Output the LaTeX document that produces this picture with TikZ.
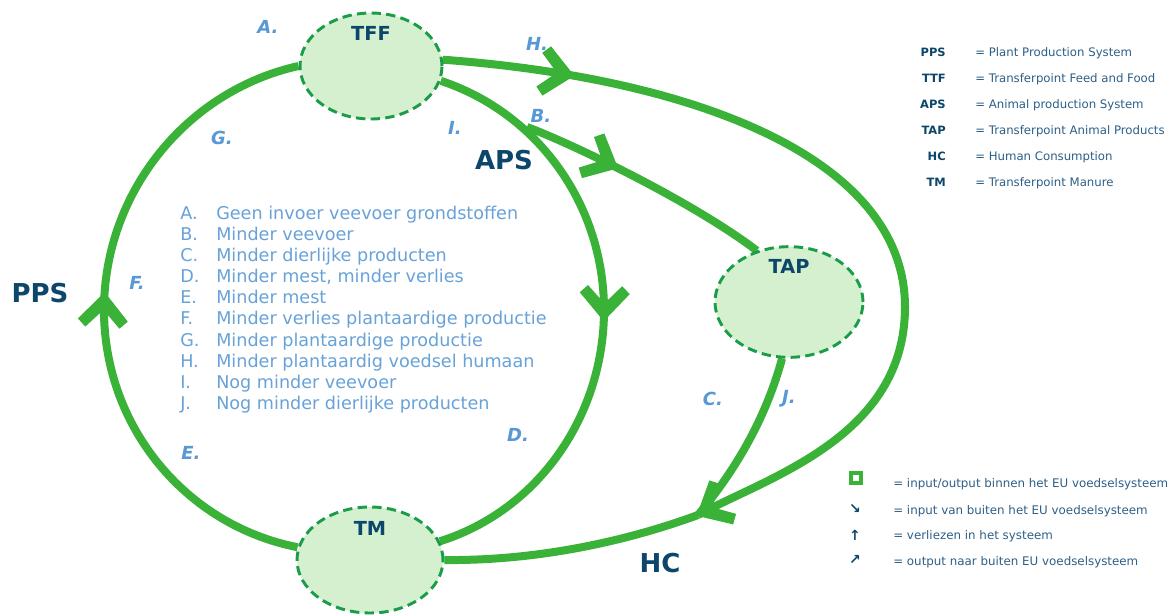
\documentclass[tikz,border=0pt]{standalone}
\usepackage{fontspec}
\setmainfont{DejaVu Sans}
\usetikzlibrary{decorations.markings,shapes.geometric,backgrounds}
\definecolor{flowc}{RGB}{58,178,56}
\definecolor{ellfill}{RGB}{212,240,207}
\definecolor{elldash}{RGB}{26,156,72}
\definecolor{navy}{RGB}{12,70,106}
\definecolor{letterblue}{RGB}{88,152,212}
\definecolor{listblue}{RGB}{104,162,216}
\definecolor{legtext}{RGB}{45,95,135}
\newcommand\chevronhead{\fill[flowc] (2,0) -- (-26,25) -- (-33.6,17.1) -- (-15.8,0) -- (-33.6,-17.1) -- (-26,-25) -- cycle;}
\begin{document}
\begin{tikzpicture}[x=0.75pt,y=-0.75pt,
  flow/.style={draw=flowc, line width=6pt},
  midarrow/.style={postaction={decorate, decoration={markings, mark=at position #1 with {\chevronhead}}}},
  stage/.style={ellipse, draw=elldash, fill=ellfill, line width=2.2pt, dash pattern=on 7pt off 4pt, inner sep=0pt},
  stagelabel/.style={font=\bfseries\fontsize{14.5}{16}\selectfont, text=navy},
  system/.style={font=\bfseries\fontsize{19.5}{22}\selectfont, text=navy, inner sep=0pt},
  letter/.style={font=\bfseries\itshape\fontsize{13.5}{15}\selectfont, text=letterblue, inner sep=0pt},
  listtext/.style={font=\fontsize{13.2}{15.8}\selectfont, text=listblue, align=left, inner sep=0pt},
  legabbr/.style={font=\bfseries\fontsize{8.6}{10}\selectfont, text=navy, inner sep=0pt},
  legicon/.style={font=\bfseries\fontsize{10.5}{12}\selectfont, text=navy, inner sep=0pt},
  legtext/.style={font=\fontsize{8.8}{10}\selectfont, text=legtext, inner sep=0pt},
  legtextb/.style={font=\fontsize{8.9}{10}\selectfont, text=legtext, inner sep=0pt},
]
\useasboundingbox (0,0) rectangle (1168,615);

% stages
\node[stage, minimum width=106.5pt, minimum height=79.5pt,
  label={[stagelabel, anchor=center, yshift=-16.5pt]north:TFF}] (tff) at (371,66) {};
\node[stage, minimum width=111pt, minimum height=83pt,
  label={[stagelabel, anchor=center, yshift=-16pt]north:TAP}] (tap) at (789,302) {};
\node[stage, minimum width=109.5pt, minimum height=79.5pt,
  label={[stagelabel, anchor=center, yshift=-17pt]north:TM}] (tm) at (370,560) {};

\coordinate (ppsarc) at (104,310);
\coordinate (apsarc) at (604,310);
\coordinate (bjunction) at (527,127);
\coordinate (outerright) at (905,307);
\coordinate (hcjunction) at (698,515);

\begin{scope}[on background layer]
\fill[white] (0,0) rectangle (1168,615);
% left arc TM -> PPS -> TFF
\draw[flow, midarrow=0.52] (tm.170) .. controls (185,525) and (104,426) .. (ppsarc)
   .. controls (104,193) and (186,91) .. (tff.west);
% inner arc TFF -> APS -> TM
\draw[flow, midarrow=0.513] (tff.-12) .. controls (538,113) and (604,205) .. (apsarc)
   .. controls (604,415) and (539,510) .. (tm.15);
% outer arc TFF -> HC
\draw[flow, midarrow=0.148, midarrow=0.9995] (tff.5) .. controls (692,78) and (905,157) .. (outerright)
   .. controls (905,437) and (768,477) .. (hcjunction);
% B: APS -> TAP
\draw[flow, midarrow=0.375] (bjunction) .. controls (570,143) and (690,200) .. (tap.122);
% TAP -> HC
\draw[flow] (tap.263) .. controls (767,414) and (739,466) .. (hcjunction);
% TM -- HC
\draw[flow] (tm.east) .. controls (540,561) and (630,540) .. (hcjunction);
\end{scope}

% system names
\node[system] (pps) at (40,293) {PPS};
\node[system] (aps) at (504,160) {APS};
\node[system] (hc) at (660,563) {HC};

% letter labels
\node[letter] (la) at (268,27) {A.};
\node[letter] (lh) at (537,44) {H.};
\node[letter] (lb) at (541,116) {B.};
\node[letter] (li) at (455,128) {I.};
\node[letter] (lg) at (222,138) {G.};
\node[letter] (lf) at (137,283) {F.};
\node[letter] (le) at (191,453) {E.};
\node[letter] (ld) at (518,435) {D.};
\node[letter] (lc) at (713,399) {C.};
\node[letter] (lj) at (789,399) {J.};

% list
\node[listtext, anchor=north west] (list) at (180,206) {%
\makebox[27pt][l]{A.}Geen invoer veevoer grondstoffen\\
\makebox[27pt][l]{B.}Minder veevoer\\
\makebox[27pt][l]{C.}Minder dierlijke producten\\
\makebox[27pt][l]{D.}Minder mest, minder verlies\\
\makebox[27pt][l]{E.}Minder mest\\
\makebox[27pt][l]{F.}Minder verlies plantaardige productie\\
\makebox[27pt][l]{G.}Minder plantaardige productie\\
\makebox[27pt][l]{H.}Minder plantaardig voedsel humaan\\
\makebox[27pt][l]{I.}Nog minder veevoer\\
\makebox[27pt][l]{J.}Nog minder dierlijke producten};

% legend top
\node[legabbr, anchor=base east] (k1) at (946,56.3) {PPS};
\node[legtext, anchor=base west] (v1) at (975,56.3) {= Plant Production System};
\node[legabbr, anchor=base east] (k2) at (946,82.3) {TTF};
\node[legtext, anchor=base west] (v2) at (975,82.3) {= Transferpoint Feed and Food};
\node[legabbr, anchor=base east] (k3) at (946,108.3) {APS};
\node[legtext, anchor=base west] (v3) at (975,108.3) {= Animal production System};
\node[legabbr, anchor=base east] (k4) at (946,134.3) {TAP};
\node[legtext, anchor=base west] (v4) at (975,134.3) {= Transferpoint Animal Products};
\node[legabbr, anchor=base east] (k5) at (946,160.3) {HC};
\node[legtext, anchor=base west] (v5) at (975,160.3) {= Human Consumption};
\node[legabbr, anchor=base east] (k6) at (946,186.3) {TM};
\node[legtext, anchor=base west] (v6) at (975,186.3) {= Transferpoint Manure};

% legend bottom
\node[draw=flowc, fill=white, line width=3pt, minimum size=7.5pt, inner sep=0pt] (s1) at (856,478) {};
\node[legtextb, anchor=base west] (w1) at (893,487.5) {= input/output binnen het EU voedselsysteem};
\node[legicon] (s2) at (855,509) {↘};
\node[legtextb, anchor=base west] (w2) at (893,514.5) {= input van buiten het EU voedselsysteem};
\node[legicon] (s3) at (855,535) {↑};
\node[legtextb, anchor=base west] (w3) at (893,539.5) {= verliezen in het systeem};
\node[legicon] (s4) at (855,560) {↗};
\node[legtextb, anchor=base west] (w4) at (893,565) {= output naar buiten EU voedselsysteem};
\end{tikzpicture}
\end{document}
